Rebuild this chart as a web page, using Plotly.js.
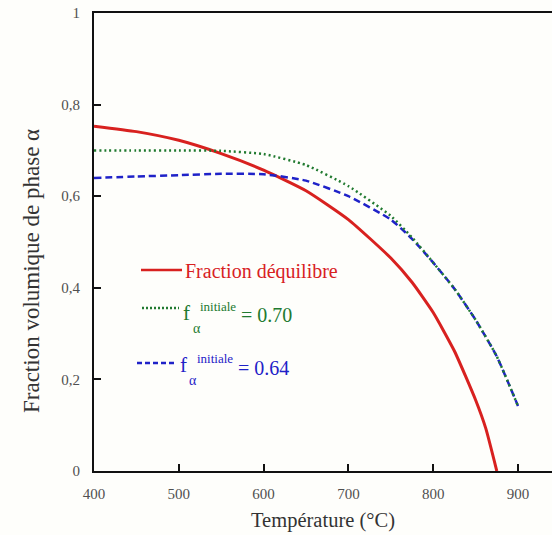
<!DOCTYPE html>
<html>
<head>
<meta charset="utf-8">
<script src="https://cdn.plot.ly/plotly-3.0.1.min.js"></script>
<style>html,body{margin:0;padding:0;background:#fefefb;}#chart{width:552px;height:535px;}</style>
</head>
<body>
<div id="chart"></div>
<script>
// ---- data ----
const tempEq = [400, 450, 500, 550, 600, 650, 700, 750, 775, 800, 825, 850, 862, 875];
const fracEq = [0.753, 0.741, 0.722, 0.693, 0.657, 0.612, 0.549, 0.465, 0.412, 0.346, 0.262, 0.155, 0.093, 0.0];

const tempInit = [400, 450, 500, 550, 600, 650, 700, 750, 775, 800, 825, 850, 875, 900];
const frac70 = [0.700, 0.700, 0.700, 0.699, 0.692, 0.668, 0.622, 0.557, 0.510, 0.455, 0.398, 0.330, 0.250, 0.142];
const frac64 = [0.640, 0.643, 0.646, 0.649, 0.648, 0.634, 0.600, 0.549, 0.507, 0.455, 0.398, 0.330, 0.250, 0.142];

const xTicks = [400, 500, 600, 700, 800, 900];
const yTicks = [0, 0.2, 0.4, 0.6, 0.8, 1];

const seriesNames = ["Fraction déquilibre", "f α initiale = 0.70", "f α initiale = 0.64"];
const legendSymbol = "f", legendSub = "α", legendSup = "initiale";
const seriesValues = ["0.70", "0.64"];

// ---- styling ----
const W = 552, H = 535, ML = 94, MR = 0, MT = 13, MB = 64;
const PW = W - ML - MR, PH = H - MT - MB;
const px = x => (x - ML) / PW;      // pixel -> paper (x)
const py = y => (H - MB - y) / PH;  // pixel -> paper (y)

const RED = '#d8211f', GREEN = '#217a30', BLUE = '#1f22c8';
const SERIF = '"Liberation Serif", "Times New Roman", Times, serif';

const traces = [
  {x: tempEq, y: fracEq, type: 'scatter', mode: 'lines', name: seriesNames[0],
   line: {color: RED, width: 3, shape: 'spline', smoothing: 0.5}, showlegend: false},
  {x: tempInit, y: frac64, type: 'scatter', mode: 'lines', name: seriesNames[2],
   line: {color: BLUE, width: 2.5, dash: '7px,4px', shape: 'spline', smoothing: 0.5}, showlegend: false},
  {x: tempInit, y: frac70, type: 'scatter', mode: 'lines', name: seriesNames[1],
   line: {color: GREEN, width: 2.5, dash: '2px,3px', shape: 'spline', smoothing: 0.5}, showlegend: false}
];

function ann(text, x, y, size, color) {
  return {text: text, xref: 'paper', yref: 'paper', x: px(x), y: py(y),
    xanchor: 'left', yanchor: 'middle', showarrow: false,
    font: {family: SERIF, size: size, color: color}};
}

const annotations = [
  ann(seriesNames[0], 183, 271, 20, RED),
  // f_alpha^initiale = 0.70
  ann(legendSymbol, 181, 313, 21, GREEN),
  ann(legendSub, 191, 328, 14, GREEN),
  ann(legendSup, 198, 306, 13, GREEN),
  ann('= ' + seriesValues[0], 239, 315, 20, GREEN),
  // f_alpha^initiale = 0.64
  ann(legendSymbol, 178, 365, 21, BLUE),
  ann(legendSub, 187, 380, 14, BLUE),
  ann(legendSup, 195, 358, 13, BLUE),
  ann('= ' + seriesValues[1], 236, 368, 20, BLUE),
  {text: 'Fraction volumique de phase α', xref: 'paper', yref: 'paper',
   x: px(31), y: py(271), xanchor: 'center', yanchor: 'middle', textangle: -90,
   showarrow: false, font: {family: SERIF, size: 23, color: '#333333'}}
];

const shapes = [
  {type: 'line', xref: 'paper', yref: 'paper', x0: px(141), x1: px(182), y0: py(270), y1: py(270),
   line: {color: RED, width: 2.5}},
  {type: 'line', xref: 'paper', yref: 'paper', x0: px(142), x1: px(179), y0: py(308), y1: py(308),
   line: {color: GREEN, width: 2.5, dash: '2px,2px'}},
  {type: 'line', xref: 'paper', yref: 'paper', x0: px(137), x1: px(177), y0: py(363), y1: py(363),
   line: {color: BLUE, width: 2.5, dash: '5px,3px'}}
];

const layout = {
  width: W, height: H,
  margin: {l: ML, r: MR, t: MT, b: MB, pad: 0},
  paper_bgcolor: '#fefefb', plot_bgcolor: '#fefefb',
  separators: ', ',
  showlegend: false,
  font: {family: SERIF, color: '#505050', size: 15},
  xaxis: {
    range: [400, 400 + PW / 0.848], tickvals: xTicks, ticktext: xTicks.map(String),
    ticks: 'inside', ticklen: 7, tickwidth: 2, tickcolor: '#111',
    showline: true, linecolor: '#111', linewidth: 2, mirror: true,
    showgrid: false, zeroline: false, ticklabelstandoff: 8,
    tickfont: {family: SERIF, size: 15, color: '#505050'},
    title: {text: 'Température (°C)', font: {family: SERIF, size: 20.5, color: '#333333'}, standoff: 12}
  },
  yaxis: {
    range: [0, 1], tickvals: yTicks,
    ticks: 'inside', ticklen: 7, tickwidth: 2, tickcolor: '#111',
    showline: true, linecolor: '#111', linewidth: 2,
    showgrid: false, zeroline: false, ticklabelstandoff: 9,
    tickfont: {family: SERIF, size: 15, color: '#505050'},
    title: {text: ''}
  },
  annotations: annotations,
  shapes: shapes
};

Plotly.newPlot('chart', traces, layout, {displayModeBar: false, staticPlot: true});
</script>
</body>
</html>
